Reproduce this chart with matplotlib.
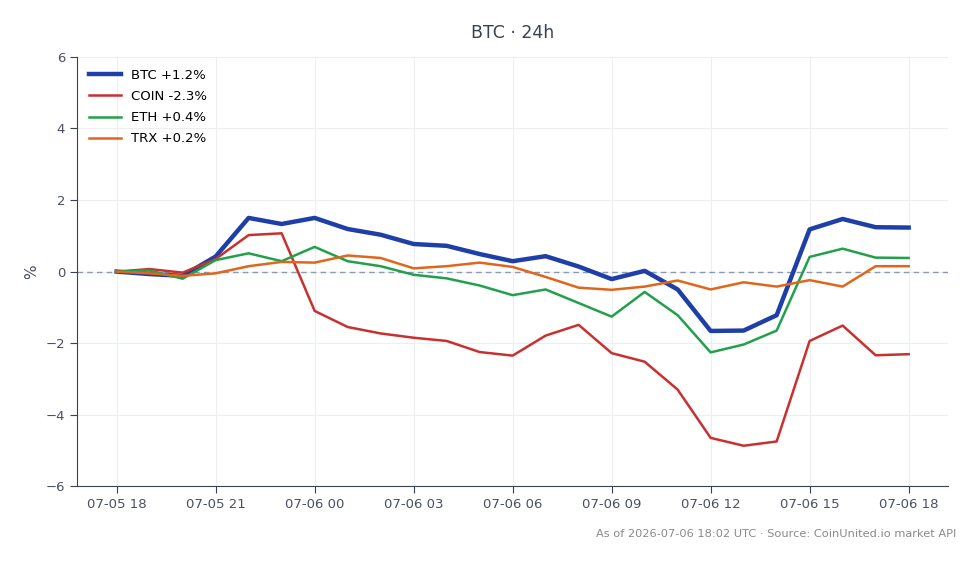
"""
BTC 24h relative performance chart
"""

import matplotlib
matplotlib.use("Agg")
import matplotlib.pyplot as plt
import matplotlib.dates as mdates
import pandas as pd

# hourly timestamps, 07-05 18:00 -> 07-06 18:00
times = pd.date_range("2026-07-05 18:00", "2026-07-06 18:00", freq="h")

btc = [0.0, -0.07, -0.12, 0.42, 1.5, 1.33, 1.5, 1.19, 1.03, 0.77, 0.72, 0.49, 0.29,
       0.43, 0.14, -0.21, 0.02, -0.5, -1.66, -1.65, -1.22, 1.18, 1.47, 1.24, 1.23]
coin = [0.0, 0.07, -0.03, 0.35, 1.02, 1.07, -1.1, -1.55, -1.73, -1.85, -1.94, -2.25, -2.35,
        -1.79, -1.49, -2.28, -2.52, -3.3, -4.65, -4.87, -4.75, -1.94, -1.51, -2.34, -2.31]
eth = [0.0, 0.03, -0.2, 0.32, 0.51, 0.29, 0.69, 0.29, 0.15, -0.09, -0.19, -0.39, -0.66,
       -0.5, -0.88, -1.26, -0.57, -1.22, -2.26, -2.04, -1.65, 0.41, 0.64, 0.39, 0.38]
trx = [0.0, -0.05, -0.12, -0.05, 0.15, 0.27, 0.25, 0.45, 0.38, 0.09, 0.15, 0.25, 0.13,
       -0.15, -0.45, -0.51, -0.42, -0.25, -0.5, -0.3, -0.42, -0.24, -0.42, 0.15, 0.15]

series = [
    ("BTC +1.2%", btc, "#1e3fa8", 3.2),
    ("COIN -2.3%", coin, "#c93030", 1.8),
    ("ETH +0.4%", eth, "#22a04b", 1.8),
    ("TRX +0.2%", trx, "#e0661c", 1.8),
]

fig = plt.figure(figsize=(9.8, 5.64), dpi=100)
ax = fig.add_axes([0.0786, 0.138, 0.889, 0.761])

for label, vals, color, lw in series:
    ax.plot(times, vals, color=color, linewidth=lw, label=label, zorder=3)

ax.axhline(0, color="#8a9ab0", linewidth=1, linestyle=(0, (4, 3)), zorder=2)

ax.set_ylim(-6, 6)
ax.set_yticks([-6, -4, -2, 0, 2, 4, 6])
ax.xaxis.set_major_locator(mdates.HourLocator(byhour=range(0, 24, 3)))
ax.xaxis.set_major_formatter(mdates.DateFormatter("%m-%d %H"))
ax.margins(x=0.05)

ax.set_title("BTC · 24h", fontsize=12.5, color="#3a4150", pad=14)
ax.set_ylabel("%", fontsize=11, color="#4a5060", labelpad=5)

ax.grid(True, color="#eceef2", linewidth=0.8, zorder=0)
for s in ["top", "right"]:
    ax.spines[s].set_visible(False)
for s in ["left", "bottom"]:
    ax.spines[s].set_color("#3a4150")
ax.tick_params(colors="#3a4150", labelcolor="#4a5060", labelsize=9.5, length=5)

ax.legend(loc="upper left", frameon=False, fontsize=9.5, handlelength=2.4,
          labelspacing=0.62)

fig.text(0.976, 0.047, "As of 2026-07-06 18:02 UTC · Source: CoinUnited.io market API",
         ha="right", fontsize=8.2, color="#8a8a8a")

fig.savefig("out.png", dpi=100)
